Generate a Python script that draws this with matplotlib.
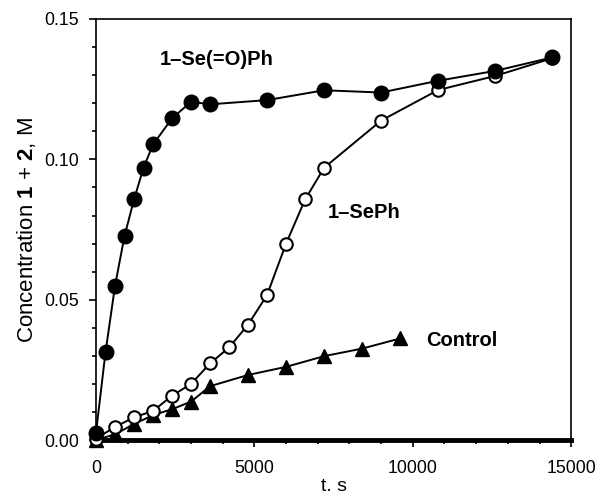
import matplotlib

matplotlib.use("Agg")
import matplotlib.pyplot as plt
from matplotlib.ticker import MultipleLocator, FormatStrFormatter

plt.rcParams["font.family"] = ["Liberation Sans", "DejaVu Sans"]
plt.rcParams["mathtext.fontset"] = "custom"
plt.rcParams["mathtext.rm"] = "Liberation Sans"
plt.rcParams["mathtext.bf"] = "Liberation Sans:bold"

# 1-Se(=O)Ph (filled circles)
t_seo = [0, 300, 600, 900, 1200, 1500, 1800, 2400, 3000, 3600, 5400, 7200, 9000, 10800, 12600, 14400]
c_seo = [0.0026, 0.0313, 0.0549, 0.0727, 0.0857, 0.0970, 0.1053, 0.1146, 0.1205, 0.1196,
         0.1211, 0.1246, 0.1238, 0.1280, 0.1315, 0.1363]

# 1-SePh (open circles)
t_seph = [0, 600, 1200, 1800, 2400, 3000, 3600, 4200, 4800, 5400, 6000, 6600, 7200, 9000,
          10800, 12600, 14400]
c_seph = [0.0005, 0.0047, 0.0081, 0.0104, 0.0158, 0.0200, 0.0273, 0.0330, 0.0411, 0.0517,
          0.0700, 0.0857, 0.0970, 0.1138, 0.1247, 0.1297, 0.1360]

# Control (triangles)
t_ctrl = [0, 600, 1200, 1800, 2400, 3000, 3600, 4800, 6000, 7200, 8400, 9600]
c_ctrl = [0.0, 0.0021, 0.0057, 0.0089, 0.0110, 0.0137, 0.0192, 0.0232, 0.0261, 0.0299,
          0.0326, 0.0362]

fig = plt.figure(figsize=(6.0, 4.99), dpi=100)
ax = fig.add_axes([0.16, 0.118, 0.792, 0.844])

line_kw = dict(color="black", lw=1.4, clip_on=False, zorder=3)
ax.plot(t_ctrl, c_ctrl, marker="^", ms=10, mfc="black", mec="black", **line_kw)
ax.plot(t_seph, c_seph, marker="o", ms=9, mfc="white", mec="black", mew=1.5, **line_kw)
ax.plot(t_seo, c_seo, marker="o", ms=10.5, mfc="black", mec="black", **line_kw)

label_kw = dict(fontsize=14.5, fontweight="bold", va="center")
ax.text(3800, 0.1354, "1\u2013Se(=O)Ph", ha="center", **label_kw)
ax.text(7330, 0.0812, "1\u2013SePh", ha="left", **label_kw)
ax.text(10420, 0.0356, "Control", ha="left", **label_kw)

ax.set_xlim(0, 15000)
ax.set_ylim(0, 0.15)
ax.xaxis.set_major_locator(MultipleLocator(5000))
ax.xaxis.set_minor_locator(MultipleLocator(1000))
ax.yaxis.set_major_locator(MultipleLocator(0.05))
ax.yaxis.set_minor_locator(MultipleLocator(0.01))
ax.yaxis.set_major_formatter(FormatStrFormatter("%.2f"))

ax.tick_params(which="both", direction="out", top=False, right=False, labelsize=12.7, width=1.2)
ax.tick_params(which="major", length=5)
ax.tick_params(which="minor", length=3)
ax.tick_params(axis="y", which="major", pad=7)
ax.tick_params(axis="x", which="major", pad=9)
for side in ["top", "right", "left"]:
    ax.spines[side].set_linewidth(1.2)
ax.spines["bottom"].set_linewidth(3.5)

ax.set_xlabel("t. s", fontsize=14, labelpad=1)
ax.set_ylabel(r"Concentration $\mathbf{1}$ + $\mathbf{2}$, M", fontsize=16, labelpad=5)

fig.savefig("out.png", dpi=100)
plt.close(fig)
